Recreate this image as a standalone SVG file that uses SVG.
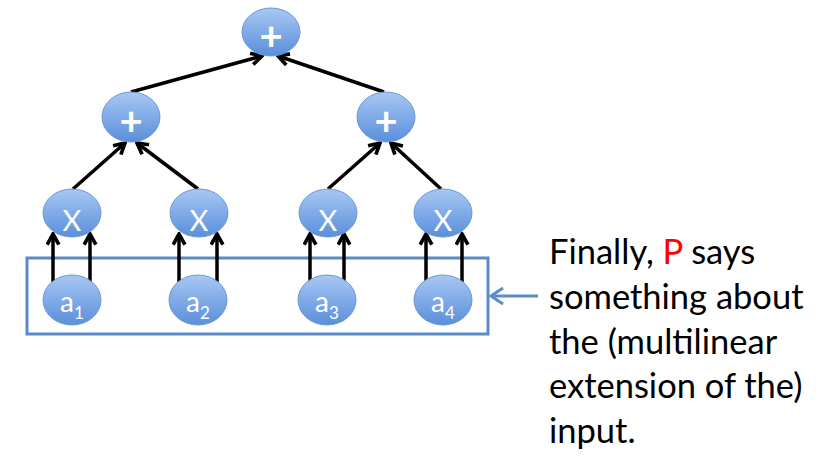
<svg xmlns="http://www.w3.org/2000/svg" width="818" height="463" viewBox="0 0 818 463">
<defs>
<linearGradient id="nodeFill" x1="0" y1="0" x2="0" y2="1">
<stop offset="0" stop-color="#a8c8f3"/>
<stop offset="0.5" stop-color="#80abe8"/>
<stop offset="1" stop-color="#5a8fd9"/>
</linearGradient>
<marker id="arrBlack" viewBox="0 0 14 14" refX="12" refY="7" markerWidth="15" markerHeight="15" markerUnits="userSpaceOnUse" orient="auto">
<path d="M2,1.5 L12,7 L2,12.5" fill="none" stroke="#000" stroke-width="3.4"/>
</marker>
<marker id="arrBlue" viewBox="0 0 16 20" refX="14" refY="10" markerWidth="16" markerHeight="20" markerUnits="userSpaceOnUse" orient="auto">
<path d="M2,2 L14,10 L2,18" fill="none" stroke="#5b8cc8" stroke-width="3"/>
</marker>
</defs>
<style>
.node ellipse { fill: url(#nodeFill); stroke: #6c98d3; stroke-width: 1; }
.lbl { font-family: Lato, "Liberation Sans", sans-serif; fill: #ffffff; text-anchor: middle; }
.op { font-size: 40px; font-weight: bold; }
.mul { font-size: 29px; }
.leaf { font-size: 28px; }
.sub { font-size: 17px; }
.edge { stroke: #000; stroke-width: 3.5; fill: none; marker-end: url(#arrBlack); }
.caption { font-family: Lato, "Liberation Sans", sans-serif; font-size: 34.5px; fill: #000; }
</style>
<rect x="0" y="0" width="818" height="463" fill="#ffffff"/>

<g id="input-box">
<rect x="27" y="258" width="461" height="76" fill="none" stroke="#5b8cc8" stroke-width="3"/>
</g>

<g id="connectors">
<line class="edge" x1="73" y1="189" x2="125" y2="143"/>
<line class="edge" x1="198" y1="189" x2="137" y2="143"/>
<line class="edge" x1="328" y1="189" x2="380" y2="143"/>
<line class="edge" x1="441" y1="189" x2="391" y2="143"/>
<line class="edge" x1="131" y1="92" x2="262" y2="56"/>
<line class="edge" x1="384" y1="92" x2="278" y2="56"/>
<line class="edge" x1="53" y1="282" x2="53" y2="234"/>
<line class="edge" x1="90" y1="282" x2="90" y2="234"/>
<line class="edge" x1="179" y1="282" x2="179" y2="234"/>
<line class="edge" x1="217" y1="282" x2="217" y2="234"/>
<line class="edge" x1="310" y1="282" x2="310" y2="234"/>
<line class="edge" x1="344" y1="282" x2="344" y2="234"/>
<line class="edge" x1="426" y1="282" x2="426" y2="234"/>
<line class="edge" x1="462" y1="282" x2="462" y2="234"/>
<line x1="538" y1="296" x2="491" y2="296" stroke="#5b8cc8" stroke-width="3" marker-end="url(#arrBlue)"/>
</g>

<g id="n-top" class="node"><ellipse cx="271" cy="32" rx="29" ry="24"/><text class="lbl op" x="271" y="50">+</text></g>
<g id="n-plus-l" class="node"><ellipse cx="131" cy="117" rx="29" ry="25"/><text class="lbl op" x="131" y="135">+</text></g>
<g id="n-plus-r" class="node"><ellipse cx="386" cy="117" rx="29" ry="25"/><text class="lbl op" x="386" y="135">+</text></g>

<g id="n-x1" class="node"><ellipse cx="72" cy="213" rx="29" ry="24"/><text class="lbl mul" x="72" y="231">X</text></g>
<g id="n-x2" class="node"><ellipse cx="199" cy="213" rx="29" ry="24"/><text class="lbl mul" x="199" y="231">X</text></g>
<g id="n-x3" class="node"><ellipse cx="328" cy="213" rx="29" ry="24"/><text class="lbl mul" x="328" y="231">X</text></g>
<g id="n-x4" class="node"><ellipse cx="443" cy="213" rx="29" ry="24"/><text class="lbl mul" x="443" y="231">X</text></g>

<g id="n-a1" class="node"><ellipse cx="72" cy="300" rx="29" ry="25"/><text class="lbl leaf" x="72" y="312">a<tspan class="sub" dy="7">1</tspan></text></g>
<g id="n-a2" class="node"><ellipse cx="198" cy="300" rx="29" ry="25"/><text class="lbl leaf" x="198" y="312">a<tspan class="sub" dy="7">2</tspan></text></g>
<g id="n-a3" class="node"><ellipse cx="327" cy="300" rx="29" ry="25"/><text class="lbl leaf" x="327" y="312">a<tspan class="sub" dy="7">3</tspan></text></g>
<g id="n-a4" class="node"><ellipse cx="443" cy="300" rx="29" ry="25"/><text class="lbl leaf" x="443" y="312">a<tspan class="sub" dy="7">4</tspan></text></g>

<g id="caption">
<text class="caption" x="549" y="264">Finally, <tspan fill="#ff0000">P</tspan> says</text>
<text class="caption" x="549" y="309">something about</text>
<text class="caption" x="549" y="354">the (multilinear</text>
<text class="caption" x="549" y="398">extension of the)</text>
<text class="caption" x="549" y="443">input.</text>
</g>
</svg>
